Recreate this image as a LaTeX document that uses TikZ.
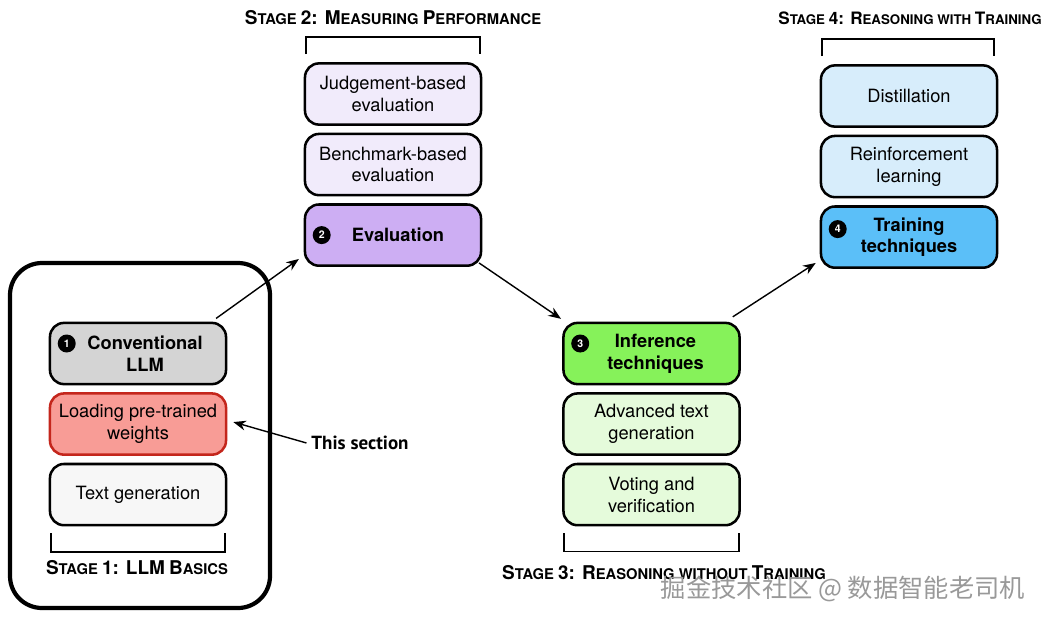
\documentclass[tikz,border=0pt]{standalone}
\usepackage{fontspec}
\setmainfont{TeX Gyre Heros}
\newfontfamily\calloutfont{PT Sans}
\newfontfamily\cjk{Noto Sans CJK SC}
\usetikzlibrary{arrows.meta, positioning, calc}

\definecolor{convgray}{HTML}{D4D4D4}
\definecolor{loadred}{HTML}{F89C96}
\definecolor{loaddraw}{HTML}{C4261C}
\definecolor{tgenwhite}{HTML}{F7F7F7}
\definecolor{evallight}{HTML}{F1EBFB}
\definecolor{evaldark}{HTML}{CDAEF3}
\definecolor{infergreen}{HTML}{86F25A}
\definecolor{inferlight}{HTML}{E5FBDB}
\definecolor{trainlight}{HTML}{D7EDFB}
\definecolor{traindark}{HTML}{5BBFF8}

% fake small caps for the stage titles
\newcommand{\capl}[1]{{\fontsize{13.5}{14}\selectfont #1}}

\begin{document}
\begin{tikzpicture}[
    x=0.025cm, y=-0.025cm,
    >=Stealth,
    box/.style={draw, rectangle, rounded corners=0.35cm,
                minimum width=4.4cm, minimum height=1.53cm,
                line width=1.8pt, align=center, inner sep=2pt,
                font=\fontsize{13}{15.5}\selectfont},
    keybox/.style={box, font=\fontsize{13}{15.5}\selectfont\bfseries},
    badge/.style={circle, fill=black, text=white, inner sep=0pt,
                  minimum size=0.45cm, font=\fontsize{7.5}{7.5}\selectfont\bfseries},
    outerbox/.style={line width=3pt, rounded corners=0.8cm},
    bracket/.style={line width=1.2pt},
    stagelabel/.style={font=\fontsize{10.5}{12}\selectfont\bfseries},
    flow/.style={->, line width=1pt, >={Stealth[length=9pt,width=7pt]}},
]
\useasboundingbox (0,0) rectangle (1042,620);

% ============================================================
% Stage 1: LLM basics
% ============================================================
\draw[outerbox] (10,263) rectangle (270,608);
\node[keybox, fill=convgray] (conv) at (138,353.5) {\hspace{0.35cm}Conventional\\\hspace{0.35cm}LLM};
\node[box, fill=loadred, draw=loaddraw, below=0.17cm of conv] (load) {Loading pre-trained\\weights};
\node[box, fill=tgenwhite, below=0.17cm of load] (tgen) {Text generation};
\node[badge] (b1) at ([shift={(0.45cm,0.25cm)}]conv.west) {1};
\draw[bracket] ([shift={(0.05cm,-0.175cm)}]tgen.south west) -- ++(0,-0.47cm)
    -| ([shift={(-0.05cm,-0.175cm)}]tgen.south east);
\node[stagelabel] (s1) at (137,568) {\capl{S}TAGE \capl{1: LLM} \capl{B}ASICS};

% ============================================================
% Stage 2: measuring performance
% ============================================================
\node[box, fill=evallight] (judge) at (393,94) {Judgement-based\\evaluation};
\node[box, fill=evallight, below=0.17cm of judge] (bench) {Benchmark-based\\evaluation};
\node[keybox, fill=evaldark, below=0.17cm of bench] (eval) {\hspace{0.25cm}Evaluation};
\node[badge] (b2) at ([xshift=0.45cm]eval.west) {2};
\draw[bracket] ([shift={(0.05cm,0.2cm)}]judge.north west) -- ++(0,0.42cm)
    -| ([shift={(-0.05cm,0.2cm)}]judge.north east);
\node[stagelabel] (s2) at (393,18) {\capl{S}TAGE \capl{2: M}EASURING \capl{P}ERFORMANCE};

% ============================================================
% Stage 3: reasoning without training
% ============================================================
\node[keybox, fill=infergreen] (infer) at (651.5,353.5) {\hspace{0.2cm}Inference\\\hspace{0.2cm}techniques};
\node[box, fill=inferlight, below=0.17cm of infer] (adv) {Advanced text\\generation};
\node[box, fill=inferlight, below=0.17cm of adv] (vote) {Voting and\\verification};
\node[badge] (b3) at ([shift={(0.45cm,0.25cm)}]infer.west) {3};
\draw[bracket] ([shift={(0.05cm,-0.175cm)}]vote.south west) -- ++(0,-0.45cm)
    -| ([shift={(-0.05cm,-0.175cm)}]vote.south east);
\node[stagelabel] (s3) at (664,573) {\capl{S}TAGE \capl{3: R}EASONING WITHOUT \capl{T}RAINING};

% ============================================================
% Stage 4: reasoning with training
% ============================================================
\node[box, fill=trainlight] (distil) at (909,96) {Distillation};
\node[box, fill=trainlight, below=0.17cm of distil] (rl) {Reinforcement\\learning};
\node[keybox, fill=traindark, below=0.17cm of rl] (train) {Training\\techniques};
\node[badge] (b4) at ([shift={(0.45cm,0.2cm)}]train.west) {4};
\draw[bracket] ([shift={(0.05cm,0.2cm)}]distil.north west) -- ++(0,0.42cm)
    -| ([shift={(-0.1cm,0.2cm)}]distil.north east);
\node[stagelabel, scale=0.9, transform shape] (s4) at (910,18) {\capl{S}TAGE \capl{4: R}EASONING WITH \capl{T}RAINING};

% ============================================================
% Flow between the stages
% ============================================================
\draw[flow] ([shift={(-0.28cm,0.08cm)}]conv.north east) -- ([shift={(-0.12cm,0.2cm)}]eval.south west);
\draw[flow] ([shift={(-0.08cm,0.1cm)}]eval.south east) -- ([shift={(-0.03cm,0.07cm)}]infer.north west);
\draw[flow] ([shift={(-0.2cm,0.12cm)}]infer.north east) -- ([shift={(-0.1cm,0.15cm)}]train.south west);

% callout
\node[font=\calloutfont\fontsize{13.5}{16}\selectfont\bfseries] (here) at (360,443) {This section};
\draw[flow] (here.west) -- ([shift={(0.15cm,0.05cm)}]load.east);

% watermark
\node[text=black!40, font=\cjk\fontsize{18}{20}\selectfont] (wm) at (843,589) {掘金技术社区 @ 数据智能老司机};

\end{tikzpicture}
\end{document}
